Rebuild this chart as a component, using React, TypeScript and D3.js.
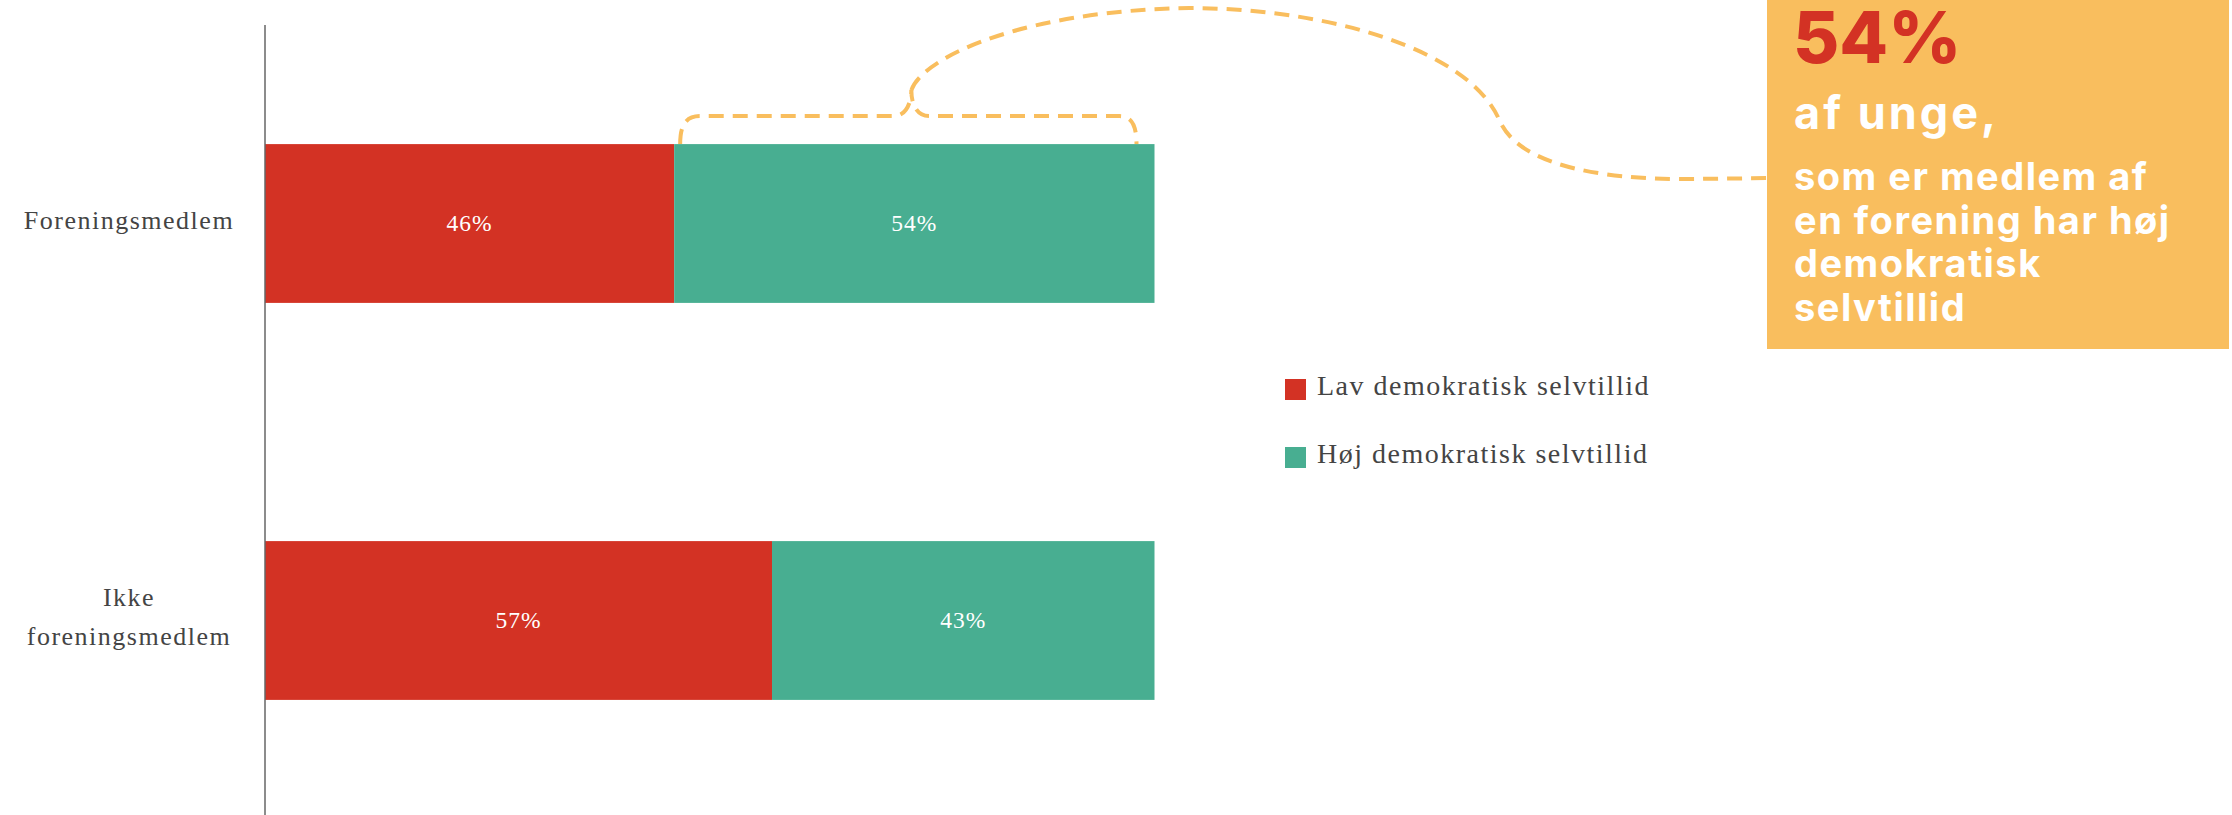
import React from "react";
import * as d3 from "d3";

const categories = ["Foreningsmedlem", "Ikke foreningsmedlem"];
const seriesKeys = ["lav", "hoej"];
const seriesNames = ["Lav demokratisk selvtillid", "Høj demokratisk selvtillid"];
const lavValues = [46, 57];
const hoejValues = [54, 43];
const seriesColors = ["#D33224", "#48AE91"];
const calloutValue = "54%";
const calloutLead = "af unge,";
const calloutLines = ["som er medlem af", "en forening har høj", "demokratisk", "selvtillid"];

const W = 2232;
const H = 815;
const ORANGE = "#F9BE5E";
const TEXT = "#444444";
const SERIF = "'Liberation Serif', 'Times New Roman', serif";
const SANS = "Inter, 'Noto Sans', sans-serif";

export default function App() {
  React.useEffect(() => {
    document.body.style.margin = "0";
  }, []);

  const rows = categories.map((c, i) => ({ cat: c, lav: lavValues[i], hoej: hoejValues[i] }));
  const stacked = d3.stack<any>().keys(seriesKeys)(rows);

  const x = d3.scaleLinear().domain([0, 100]).range([265, 1154.5]);
  const y = d3
    .scaleBand<string>()
    .domain(categories)
    .range([25, 819])
    .paddingInner(0.6)
    .paddingOuter(0.3);
  const bw = y.bandwidth();

  // brace over the "Høj" segment of the first bar
  const b0 = x(lavValues[0]) + 6;
  const b1 = x(100) - 18;
  const top = y(categories[0])!;
  const by = top - 28;
  const bm = (b0 + b1) / 2 + 3;
  const cy = by - 26;
  const brace = `M ${b0} ${top} C ${b0} ${by + 10}, ${b0 + 5} ${by}, ${b0 + 20} ${by}
    L ${bm - 17} ${by} C ${bm - 7} ${by}, ${bm} ${by - 11}, ${bm} ${cy}
    C ${bm} ${by - 11}, ${bm + 6} ${by}, ${bm + 18} ${by}
    L ${b1 - 17} ${by} C ${b1 - 5} ${by}, ${b1} ${by + 9}, ${b1} ${top}`;

  const boxX = 1767;
  const boxBottom = 349;
  const connector = `M ${bm} ${cy} C ${bm + 13} ${cy - 35}, ${bm + 118} ${cy - 80}, ${bm + 278} ${cy - 82}
    C ${bm + 418} ${cy - 82}, ${bm + 558} ${cy - 40}, ${bm + 588} ${cy + 30}
    C ${bm + 603} ${cy + 65}, ${bm + 658} ${cy + 88}, ${bm + 768} ${cy + 89}
    L ${boxX} ${cy + 88}`;

  const wrap = (s: string) => (s.length > 16 && s.includes(" ") ? s.split(" ") : [s]);

  return (
    <svg
      width={W}
      height={H}
      viewBox={`0 0 ${W} ${H}`}
      style={{ position: "absolute", left: 0, top: 0, background: "#fff" }}
    >
      {/* bars */}
      {stacked.map((s, si) => (
        <g key={s.key} fill={seriesColors[si]}>
          {s.map((d, di) => (
            <rect
              key={di}
              x={x(d[0])}
              y={y(categories[di])}
              width={x(d[1]) - x(d[0])}
              height={bw}
            />
          ))}
        </g>
      ))}
      {/* value labels */}
      {stacked.map((s) =>
        s.map((d, di) => (
          <text
            key={s.key + di}
            x={(x(d[0]) + x(d[1])) / 2}
            y={y(categories[di])! + bw / 2 + 7}
            textAnchor="middle"
            fill="#fff"
            fontFamily={SERIF}
            fontSize={23.5}
            letterSpacing={1}
          >
            {`${d[1] - d[0]}%`}
          </text>
        ))
      )}
      {/* axis line */}
      <line x1={x(0)} x2={x(0)} y1={25} y2={H} stroke="#666" strokeWidth={1.5} />
      {/* category labels */}
      {categories.map((c) => {
        const lines = wrap(c);
        const cyy = y(c)! + bw / 2 + 5;
        const start = cyy - ((lines.length - 1) * 39) / 2;
        return (
          <text
            key={c}
            textAnchor="middle"
            fill={TEXT}
            fontFamily={SERIF}
            fontSize={26}
            letterSpacing={1.5}
          >
            {lines.map((l, li) => (
              <tspan key={li} x={129} y={start + li * 39}>
                {l}
              </tspan>
            ))}
          </text>
        );
      })}
      {/* legend */}
      {seriesNames.map((n, i) => (
        <g key={n} transform={`translate(1285, ${379 + i * 68})`}>
          <rect width={21} height={21} fill={seriesColors[i]} />
          <text x={32} y={15.5} fill={TEXT} fontFamily={SERIF} fontSize={28} letterSpacing={1.5}>
            {n}
          </text>
        </g>
      ))}
      {/* annotation */}
      <path d={brace} fill="none" stroke={ORANGE} strokeWidth={4} strokeDasharray="15 9" />
      <path d={connector} fill="none" stroke={ORANGE} strokeWidth={4} strokeDasharray="15 9" />
      <rect x={boxX} y={0} width={W - boxX - 3} height={boxBottom} fill={ORANGE} />
      <text x={1793} y={62.7} fill={seriesColors[0]} fontFamily={SANS} fontWeight={800} fontSize={71}>
        {calloutValue}
      </text>
      <text
        x={1794}
        y={129.3}
        fill="#fff"
        fontFamily={SANS}
        fontWeight={700}
        fontSize={45}
        letterSpacing={3}
      >
        {calloutLead}
      </text>
      {calloutLines.map((l, i) => (
        <text
          key={i}
          x={1794}
          y={190 + i * 43.7}
          fill="#fff"
          fontFamily={SANS}
          fontWeight={700}
          fontSize={38}
          letterSpacing={1.5}
        >
          {l}
        </text>
      ))}
    </svg>
  );
}
